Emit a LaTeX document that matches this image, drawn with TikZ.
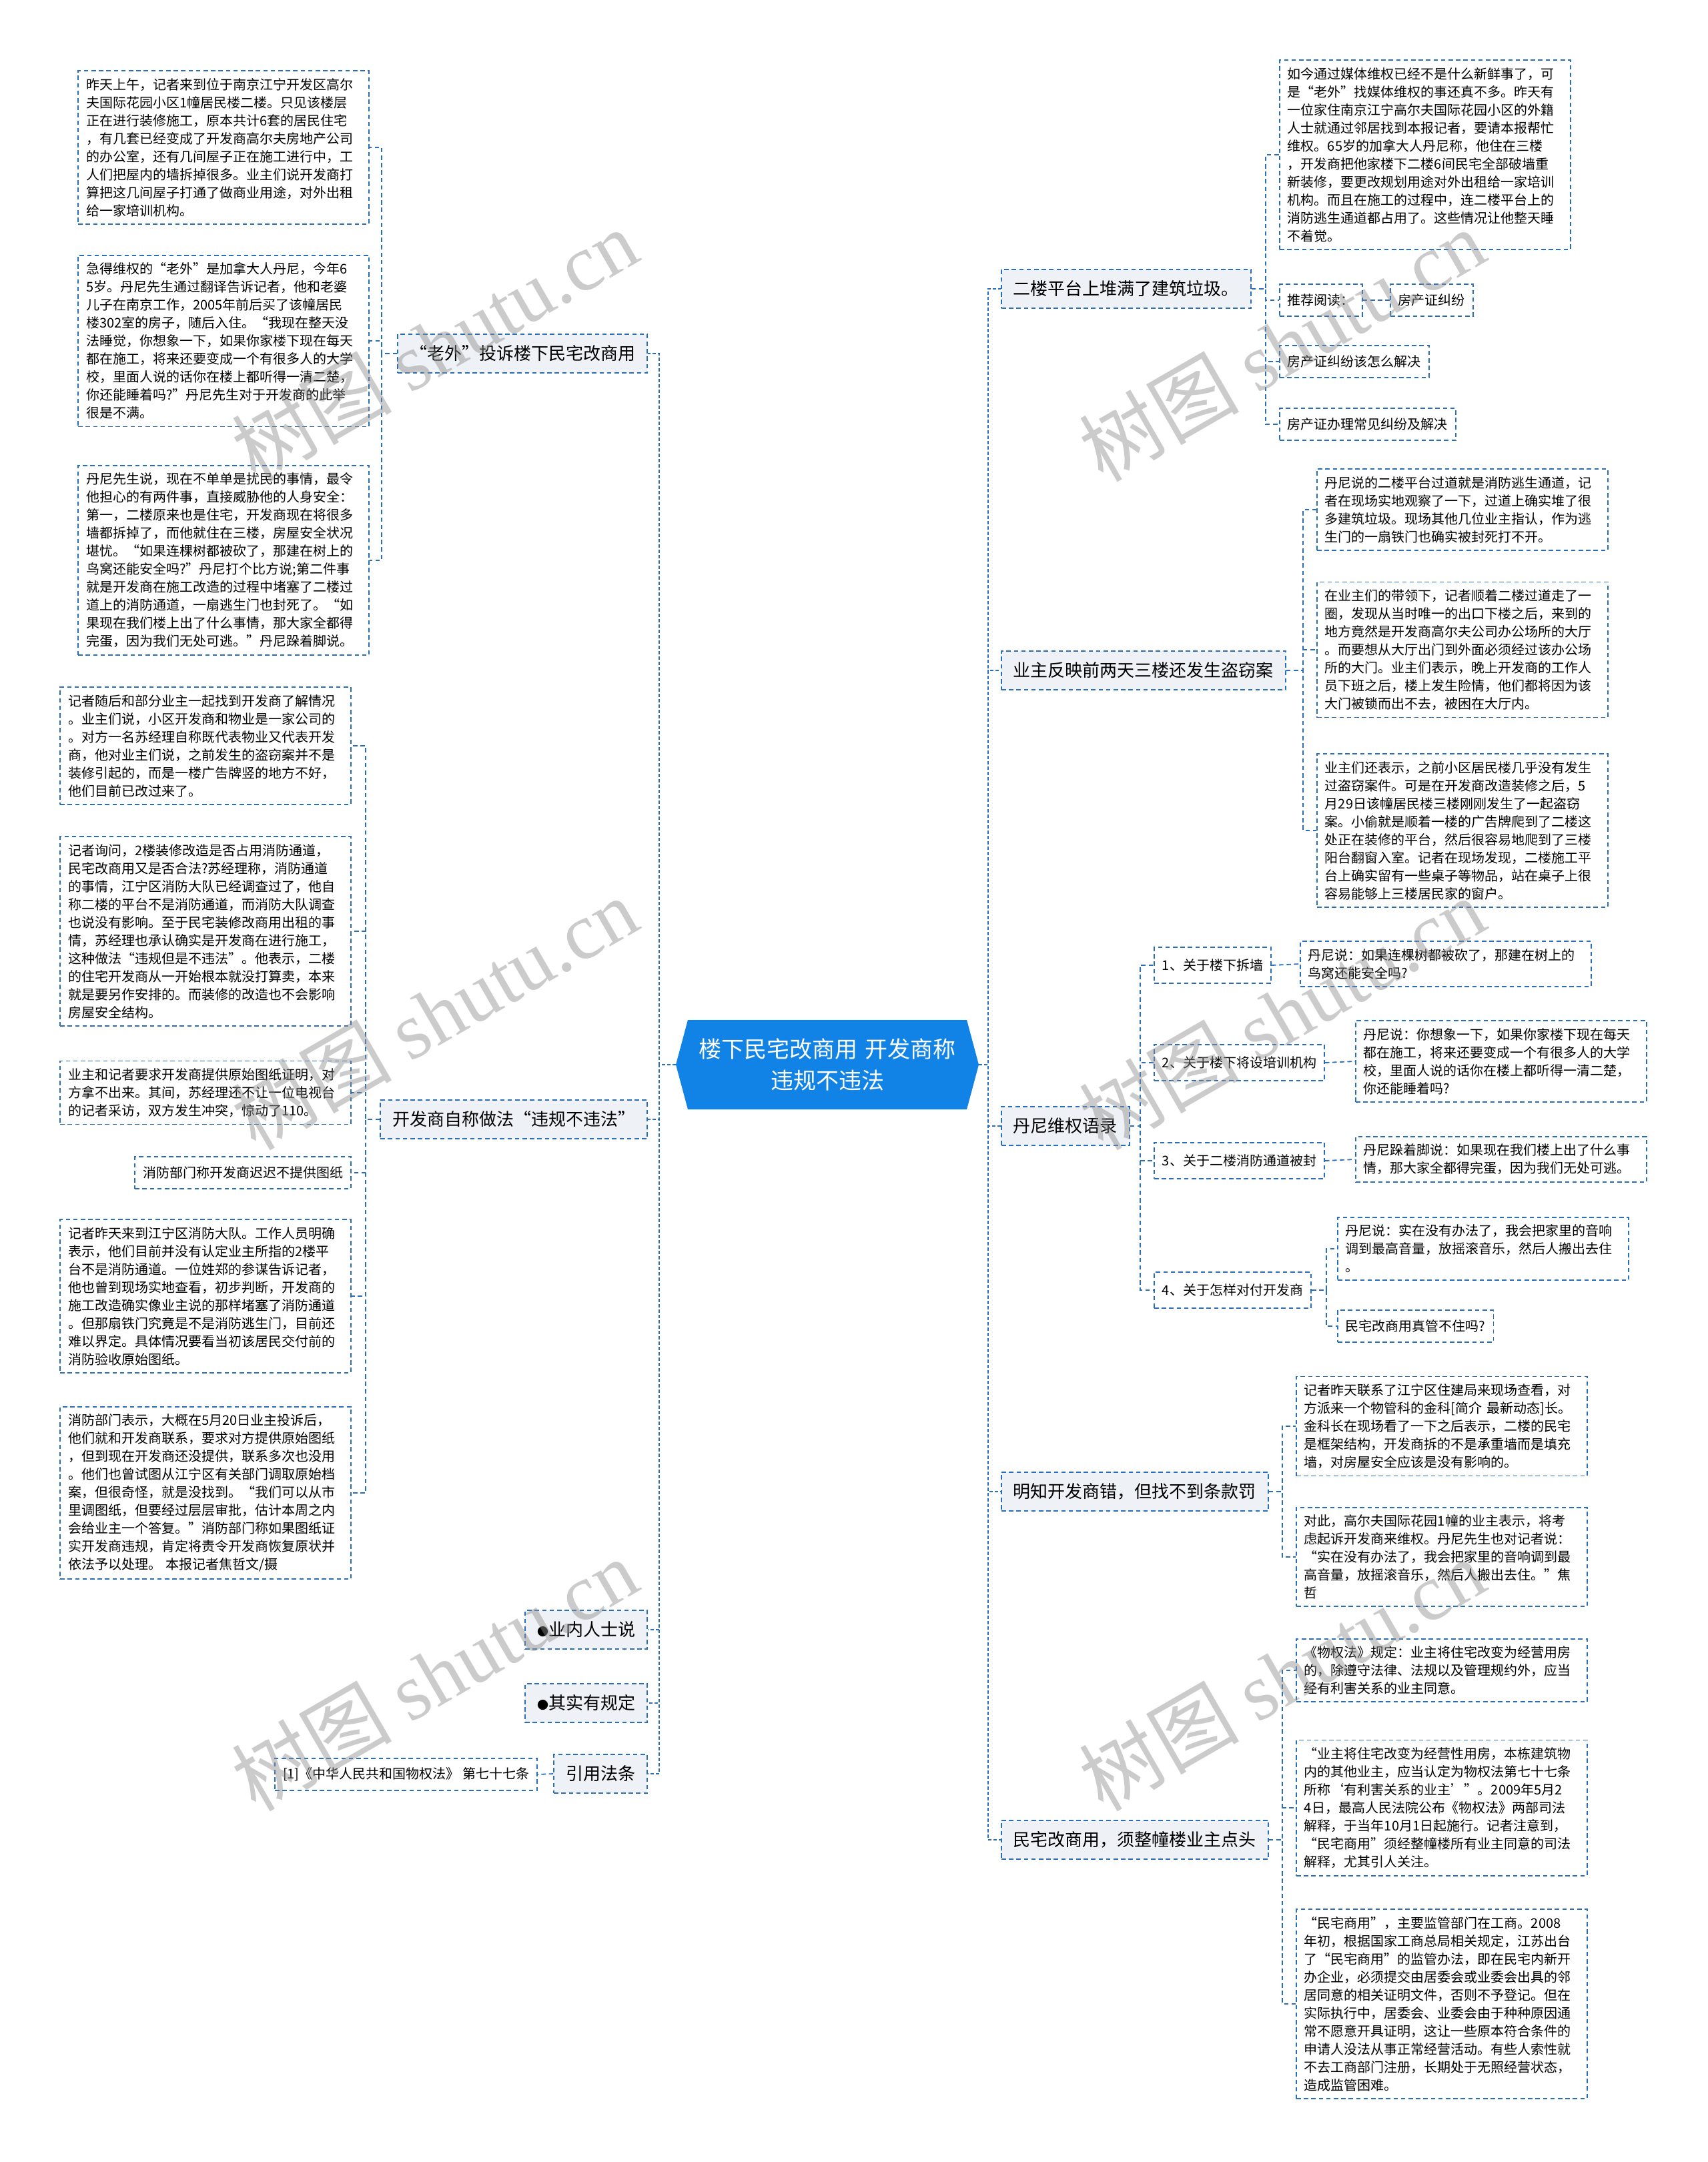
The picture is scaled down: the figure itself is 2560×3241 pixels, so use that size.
\documentclass[tikz,border=0pt]{standalone}
\usepackage{fontspec}
\setmainfont{Noto Sans CJK SC}
\newfontfamily\wmlatin{Liberation Serif}
\usetikzlibrary{shapes.symbols}
\definecolor{mapblue}{RGB}{42,110,185}
\definecolor{rootblue}{RGB}{18,131,230}
\definecolor{topicfill}{RGB}{238,241,245}
\newcommand{\leaffont}{\fontsize{10}{13.5}\selectfont}
\newcommand{\topicfont}{\fontsize{13}{16}\selectfont}
\newcommand{\dotmark}{{\fontsize{8.5}{8.5}\selectfont ●}}
\begin{document}
\begin{tikzpicture}[x=0.5pt, y=-0.5pt,
  box/.style={draw=mapblue, line width=0.9pt, dash pattern=on 3.3pt off 2.3pt},
  leaf/.style={box, fill=white, font=\leaffont, inner xsep=6pt, inner ysep=5.5pt, minimum height=24pt},
  para/.style={leaf, text width=206pt, align=left},
  sub/.style={leaf, minimum height=27pt},
  topic/.style={box, fill=topicfill, font=\topicfont, inner xsep=9pt, minimum height=29pt},
  link/.style={draw=mapblue, line width=0.9pt, dash pattern=on 3.3pt off 2.3pt},
  trunk/.style={link, line width=1.3pt, dash pattern=on 2.5pt off 1.5pt},
  wmark/.style={text=black!45, opacity=0.45, font=\fontsize{60}{60}\selectfont, rotate=30}]
  \fill[white] (0,0) rectangle (2560,3241);
  \useasboundingbox (0,0) rectangle (2560,3241);

  % centre
  \node[signal, signal to=west and east, signal pointer angle=150, fill=rootblue, text=white,
        font=\fontsize{17}{23.5}\selectfont, text width=205pt, align=center,
        minimum width=227pt, minimum height=67pt, inner sep=1pt] (root) at (1240,1596)
        {楼下民宅改商用 开发商称\\违规不违法};

  % left topics
  \node[topic, anchor=east] (l-laowai) at (971,530) {“老外”投诉楼下民宅改商用};
  \node[topic, anchor=east] (l-weigui) at (971,1678) {开发商自称做法“违规不违法”};
  \node[topic, anchor=east] (l-neiren) at (971,2443) {\dotmark 业内人士说};
  \node[topic, anchor=east] (l-guiding) at (971,2553) {\dotmark 其实有规定};
  \node[topic, anchor=east] (l-fatiao) at (971,2659) {引用法条};

  % right topics
  \node[topic, anchor=west] (r-pingtai) at (1500,433) {二楼平台上堆满了建筑垃圾。};
  \node[topic, anchor=west] (r-daoqie) at (1500,1005) {业主反映前两天三楼还发生盗窃案};
  \node[topic, anchor=west] (r-yulu) at (1500,1688) {丹尼维权语录};
  \node[topic, anchor=west] (r-tiaokuan) at (1500,2236) {明知开发商错，但找不到条款罚};
  \node[topic, anchor=west] (r-diantou) at (1500,2758) {民宅改商用，须整幢楼业主点头};

  % "laowai" texts
  \node[para, anchor=east] (laowai1) at (554,221) {昨天上午，记者来到位于南京江宁开发区高尔\\夫国际花园小区1幢居民楼二楼。只见该楼层\\正在进行装修施工，原本共计6套的居民住宅\\，有几套已经变成了开发商高尔夫房地产公司\\的办公室，还有几间屋子正在施工进行中，工\\人们把屋内的墙拆掉很多。业主们说开发商打\\算把这几间屋子打通了做商业用途，对外出租\\给一家培训机构。};
  \node[para, anchor=east] (laowai2) at (554,511) {急得维权的“老外”是加拿大人丹尼，今年6\\5岁。丹尼先生通过翻译告诉记者，他和老婆\\儿子在南京工作，2005年前后买了该幢居民\\楼302室的房子，随后入住。“我现在整天没\\法睡觉，你想象一下，如果你家楼下现在每天\\都在施工，将来还要变成一个有很多人的大学\\校，里面人说的话你在楼上都听得一清二楚，\\你还能睡着吗?”丹尼先生对于开发商的此举\\很是不满。};
  \node[para, anchor=east] (laowai3) at (554,840) {丹尼先生说，现在不单单是扰民的事情，最令\\他担心的有两件事，直接威胁他的人身安全：\\第一，二楼原来也是住宅，开发商现在将很多\\墙都拆掉了，而他就住在三楼，房屋安全状况\\堪忧。“如果连棵树都被砍了，那建在树上的\\鸟窝还能安全吗?”丹尼打个比方说;第二件事\\就是开发商在施工改造的过程中堵塞了二楼过\\道上的消防通道，一扇逃生门也封死了。“如\\果现在我们楼上出了什么事情，那大家全都得\\完蛋，因为我们无处可逃。”丹尼跺着脚说。};

  % "weigui" texts
  \node[para, anchor=east] (weigui1) at (527,1118) {记者随后和部分业主一起找到开发商了解情况\\。业主们说，小区开发商和物业是一家公司的\\。对方一名苏经理自称既代表物业又代表开发\\商，他对业主们说，之前发生的盗窃案并不是\\装修引起的，而是一楼广告牌竖的地方不好，\\他们目前已改过来了。};
  \node[para, anchor=east] (weigui2) at (527,1396) {记者询问，2楼装修改造是否占用消防通道，\\民宅改商用又是否合法?苏经理称，消防通道\\的事情，江宁区消防大队已经调查过了，他自\\称二楼的平台不是消防通道，而消防大队调查\\也说没有影响。至于民宅装修改商用出租的事\\情，苏经理也承认确实是开发商在进行施工，\\这种做法“违规但是不违法”。他表示，二楼\\的住宅开发商从一开始根本就没打算卖，本来\\就是要另作安排的。而装修的改造也不会影响\\房屋安全结构。};
  \node[para, anchor=east] (weigui3) at (527,1638) {业主和记者要求开发商提供原始图纸证明，对\\方拿不出来。其间，苏经理还不让一位电视台\\的记者采访，双方发生冲突，惊动了110。};
  \node[leaf, anchor=east] (weigui4) at (527,1758) {消防部门称开发商迟迟不提供图纸};
  \node[para, anchor=east] (weigui5) at (527,1943) {记者昨天来到江宁区消防大队。工作人员明确\\表示，他们目前并没有认定业主所指的2楼平\\台不是消防通道。一位姓郑的参谋告诉记者，\\他也曾到现场实地查看，初步判断，开发商的\\施工改造确实像业主说的那样堵塞了消防通道\\。但那扇铁门究竟是不是消防逃生门，目前还\\难以界定。具体情况要看当初该居民交付前的\\消防验收原始图纸。};
  \node[para, anchor=east] (weigui6) at (527,2238) {消防部门表示，大概在5月20日业主投诉后，\\他们就和开发商联系，要求对方提供原始图纸\\，但到现在开发商还没提供，联系多次也没用\\。他们也曾试图从江宁区有关部门调取原始档\\案，但很奇怪，就是没找到。“我们可以从市\\里调图纸，但要经过层层审批，估计本周之内\\会给业主一个答复。”消防部门称如果图纸证\\实开发商违规，肯定将责令开发商恢复原状并\\依法予以处理。 本报记者焦哲文/摄};

  % law
  \node[leaf, anchor=east] (fatiao1) at (806,2660) {[1]《中华人民共和国物权法》 第七十七条};

  % "pingtai" texts
  \node[para, anchor=west] (pingtai1) at (1917,232) {如今通过媒体维权已经不是什么新鲜事了，可\\是“老外”找媒体维权的事还真不多。昨天有\\一位家住南京江宁高尔夫国际花园小区的外籍\\人士就通过邻居找到本报记者，要请本报帮忙\\维权。65岁的加拿大人丹尼称，他住在三楼\\，开发商把他家楼下二楼6间民宅全部破墙重\\新装修，要更改规划用途对外出租给一家培训\\机构。而且在施工的过程中，连二楼平台上的\\消防逃生通道都占用了。这些情况让他整天睡\\不着觉。};
  \node[leaf, anchor=west] (pingtai2) at (1917,450) {推荐阅读：};
  \node[leaf, anchor=west] (pingtai2a) at (2083,450) {房产证纠纷};
  \node[leaf, anchor=west] (pingtai3) at (1917,542) {房产证纠纷该怎么解决};
  \node[leaf, anchor=west] (pingtai4) at (1917,636) {房产证办理常见纠纷及解决};

  % "daoqie" texts
  \node[para, anchor=west] (daoqie1) at (1973,764) {丹尼说的二楼平台过道就是消防逃生通道，记\\者在现场实地观察了一下，过道上确实堆了很\\多建筑垃圾。现场其他几位业主指认，作为逃\\生门的一扇铁门也确实被封死打不开。};
  \node[para, anchor=west] (daoqie2) at (1973,974) {在业主们的带领下，记者顺着二楼过道走了一\\圈，发现从当时唯一的出口下楼之后，来到的\\地方竟然是开发商高尔夫公司办公场所的大厅\\。而要想从大厅出门到外面必须经过该办公场\\所的大门。业主们表示，晚上开发商的工作人\\员下班之后，楼上发生险情，他们都将因为该\\大门被锁而出不去，被困在大厅内。};
  \node[para, anchor=west] (daoqie3) at (1973,1245) {业主们还表示，之前小区居民楼几乎没有发生\\过盗窃案件。可是在开发商改造装修之后，5\\月29日该幢居民楼三楼刚刚发生了一起盗窃\\案。小偷就是顺着一楼的广告牌爬到了二楼这\\处正在装修的平台，然后很容易地爬到了三楼\\阳台翻窗入室。记者在现场发现，二楼施工平\\台上确实留有一些桌子等物品，站在桌子上很\\容易能够上三楼居民家的窗户。};

  % "yulu" items
  \node[sub, anchor=west] (yulu1) at (1729,1447) {1、关于楼下拆墙};
  \node[sub, anchor=west] (yulu2) at (1729,1593) {2、关于楼下将设培训机构};
  \node[sub, anchor=west] (yulu3) at (1729,1740) {3、关于二楼消防通道被封};
  \node[sub, anchor=west] (yulu4) at (1729,1934) {4、关于怎样对付开发商};
  \node[para, anchor=west] (yulu1a) at (1948,1445) {丹尼说：如果连棵树都被砍了，那建在树上的\\鸟窝还能安全吗?};
  \node[para, anchor=west] (yulu2a) at (2031,1591) {丹尼说：你想象一下，如果你家楼下现在每天\\都在施工，将来还要变成一个有很多人的大学\\校，里面人说的话你在楼上都听得一清二楚，\\你还能睡着吗?};
  \node[para, anchor=west] (yulu3a) at (2031,1738) {丹尼跺着脚说：如果现在我们楼上出了什么事\\情，那大家全都得完蛋，因为我们无处可逃。};
  \node[para, anchor=west] (yulu4a) at (2004,1872) {丹尼说：实在没有办法了，我会把家里的音响\\调到最高音量，放摇滚音乐，然后人搬出去住\\。};
  \node[leaf, anchor=west] (yulu4b) at (2004,1988) {民宅改商用真管不住吗?};

  % "tiaokuan" texts
  \node[para, anchor=west] (tiaokuan1) at (1942,2138) {记者昨天联系了江宁区住建局来现场查看，对\\方派来一个物管科的金科[简介 最新动态]长。\\金科长在现场看了一下之后表示，二楼的民宅\\是框架结构，开发商拆的不是承重墙而是填充\\墙，对房屋安全应该是没有影响的。};
  \node[para, anchor=west] (tiaokuan2) at (1942,2334) {对此，高尔夫国际花园1幢的业主表示，将考\\虑起诉开发商来维权。丹尼先生也对记者说：\\“实在没有办法了，我会把家里的音响调到最\\高音量，放摇滚音乐，然后人搬出去住。”焦\\哲};

  % "diantou" texts
  \node[para, anchor=west] (diantou1) at (1942,2504) {《物权法》规定：业主将住宅改变为经营用房\\的，除遵守法律、法规以及管理规约外，应当\\经有利害关系的业主同意。};
  \node[para, anchor=west] (diantou2) at (1942,2710) {“业主将住宅改变为经营性用房，本栋建筑物\\内的其他业主，应当认定为物权法第七十七条\\所称‘有利害关系的业主’”。2009年5月2\\4日，最高人民法院公布《物权法》两部司法\\解释，于当年10月1日起施行。记者注意到，\\“民宅商用”须经整幢楼所有业主同意的司法\\解释，尤其引人关注。};
  \node[para, anchor=west] (diantou3) at (1942,3004) {“民宅商用”，主要监管部门在工商。2008\\年初，根据国家工商总局相关规定，江苏出台\\了“民宅商用”的监管办法，即在民宅内新开\\办企业，必须提交由居委会或业委会出具的邻\\居同意的相关证明文件，否则不予登记。但在\\实际执行中，居委会、业委会由于种种原因通\\常不愿意开具证明，这让一些原本符合条件的\\申请人没法从事正常经营活动。有些人索性就\\不去工商部门注册，长期处于无照经营状态，\\造成监管困难。};

  % bus lines
  \coordinate (bus-left) at (988,0);
  \coordinate (bus-right) at (1481,0);
  \coordinate (bus-laowai) at (572,0);
  \coordinate (bus-weigui) at (548,0);
  \coordinate (bus-pingtai) at (1897,0);
  \coordinate (bus-daoqie) at (1953,0);
  \coordinate (bus-yulu) at (1709,0);
  \coordinate (bus-yulu4) at (1988,0);
  \coordinate (bus-tiaokuan) at (1922,0);

  \foreach \c in {l-laowai,l-weigui,l-neiren,l-guiding,l-fatiao}
    \draw[trunk] (root.west) -- (root.west -| bus-left) |- (\c.east);
  \foreach \c in {r-pingtai,r-daoqie,r-yulu,r-tiaokuan,r-diantou}
    \draw[trunk] (root.east) -- (root.east -| bus-right) |- (\c.west);

  \foreach \c in {laowai1,laowai2,laowai3}
    \draw[link] (l-laowai.west) -- (l-laowai.west -| bus-laowai) |- (\c.east);
  \foreach \c in {weigui1,weigui2,weigui3,weigui4,weigui5,weigui6}
    \draw[link] (l-weigui.west) -- (l-weigui.west -| bus-weigui) |- (\c.east);
  \draw[link] (l-fatiao.west) -- (fatiao1.east);

  \foreach \c in {pingtai1,pingtai2,pingtai3,pingtai4}
    \draw[link] (r-pingtai.east) -- (r-pingtai.east -| bus-pingtai) |- (\c.west);
  \draw[link] (pingtai2.east) -- (pingtai2a.west);
  \foreach \c in {daoqie1,daoqie2,daoqie3}
    \draw[link] (r-daoqie.east) -- (r-daoqie.east -| bus-daoqie) |- (\c.west);
  \foreach \c in {yulu1,yulu2,yulu3,yulu4}
    \draw[link] (r-yulu.east) -- (r-yulu.east -| bus-yulu) |- (\c.west);
  \foreach \i in {1,2,3}
    \draw[link] (yulu\i.east) -- (yulu\i a.west);
  \foreach \c in {yulu4a,yulu4b}
    \draw[link] (yulu4.east) -- (yulu4.east -| bus-yulu4) |- (\c.west);
  \foreach \c in {tiaokuan1,tiaokuan2}
    \draw[link] (r-tiaokuan.east) -- (r-tiaokuan.east -| bus-tiaokuan) |- (\c.west);
  \foreach \c in {diantou1,diantou2,diantou3}
    \draw[link] (r-diantou.east) -- (r-diantou.east -| bus-tiaokuan) |- (\c.west);

  % watermark
  \foreach \x/\y [count=\n] in {651/517,651/1519,651/2510,1921/517,1921/1519,1921/2510}
    \node[wmark] (wm\n) at (\x,\y) {树图 {\wmlatin shutu.cn}};
\end{tikzpicture}
\end{document}
